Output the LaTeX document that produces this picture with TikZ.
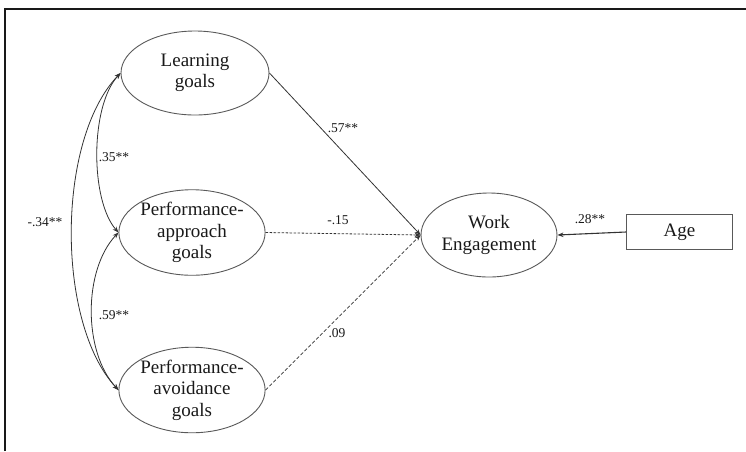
\documentclass[tikz,border=0pt]{standalone}
\usepackage{fontspec}
\setmainfont{Liberation Serif}
\usetikzlibrary{shapes.geometric,arrows.meta}
\begin{document}
\begin{tikzpicture}[x=1pt,y=-1pt,
  latent/.style={ellipse,draw=black!65,line width=0.9pt,inner sep=0pt,align=center,
    font=\fontsize{19}{21.5}\selectfont,text=black!90},
  observed/.style={rectangle,draw=black!65,line width=0.9pt,inner sep=0pt,
    minimum width=106pt,minimum height=35pt,font=\fontsize{19}{21.5}\selectfont,text=black!90},
  coef/.style={font=\fontsize{13.5}{15}\selectfont,inner sep=0pt,text=black!90},
  tip/.tip={Stealth[length=6pt,width=4.5pt]},
  regpath/.style={draw=black!80,line width=0.8pt,-tip},
  insig/.style={regpath,dash pattern=on 2.5pt off 1.5pt},
  cov/.style={draw=black!80,line width=0.8pt,tip-tip}
]
\useasboundingbox (0,0) rectangle (746,451);

% frame
\draw[line width=2pt,black!90] (5,451) -- (5,8.7) -- (746,8.7);

% constructs
\node[latent,minimum width=148pt,minimum height=84pt] (L) at (195,73) {Learning\\goals};
\node[latent,minimum width=141pt,minimum height=83pt] (A) at (192,232.5) {Performance-\\approach\\goals};
\node[latent,minimum width=142pt,minimum height=84pt] (V) at (192,390) {Performance-\\avoidance\\goals};
\node[latent,minimum width=136pt,minimum height=84pt] (W) at (489,235) {Work\\Engagement};
\node[observed] (Age) at (679.5,232) {Age};

% correlations among goal orientations
\draw[cov] (L.west) .. controls (90,106) and (90,200) .. (A.west);
\draw[cov] (A.west) .. controls (83,270) and (83,352) .. (V.west);
\draw[cov] (L.west) .. controls (56,140) and (56,323) .. (V.west);

% regression paths
\draw[regpath] (L.east) -- (W.west);
\draw[insig] (A.east) -- (W.west);
\draw[insig,dash pattern=on 3.5pt off 2pt] (V.east) -- (W.west);
\draw[regpath,line width=1.1pt] (Age.west) -- (W.east);

% coefficients
\node[coef] (c35) at (114,157) {.35**};
\node[coef] (c59) at (114,315) {.59**};
\node[coef] (c34) at (45,222) {-.34**};
\node[coef] (c57) at (343,128) {.57**};
\node[coef] (c15) at (338,220) {-.15};
\node[coef] (c09) at (337,333) {.09};
\node[coef] (c28) at (590,219) {.28**};
\end{tikzpicture}
\end{document}
